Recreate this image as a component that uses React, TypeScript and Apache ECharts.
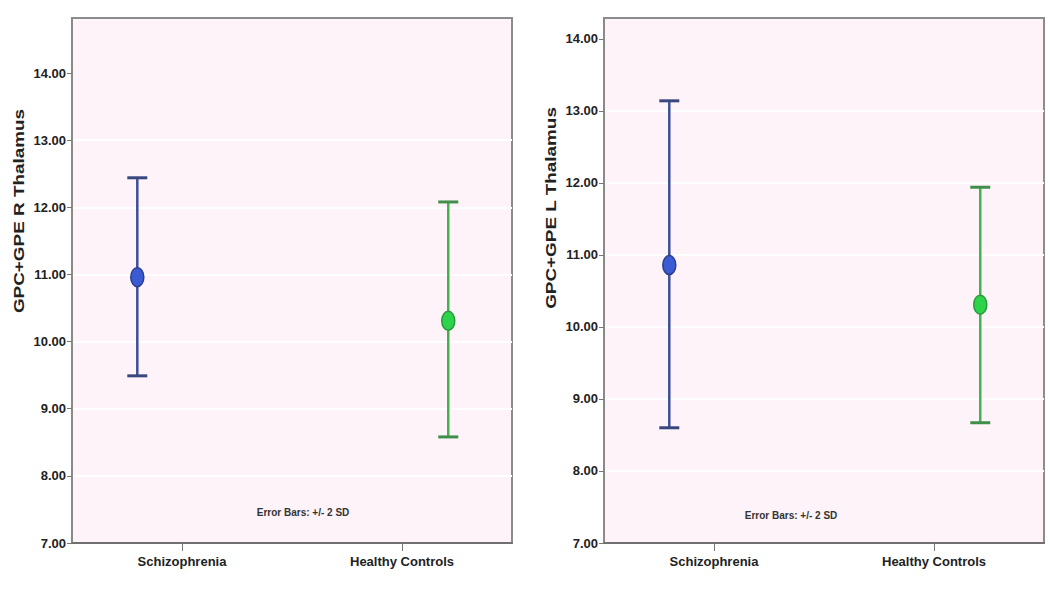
import React, { useEffect, useRef } from "react";
import * as echarts from "echarts";

const categories = ["Schizophrenia", "Healthy Controls"];
const yTicks = [7, 8, 9, 10, 11, 12, 13, 14];

const rightMeans = [10.96, 10.31];
const rightLower = [9.49, 8.58];
const rightUpper = [12.44, 12.08];

const leftMeans = [10.86, 10.31];
const leftLower = [8.6, 8.67];
const leftUpper = [13.14, 11.94];

const lineColors = ["#3c4f98", "#45b24f"];
const capColors = ["#3a467e", "#3f8f4a"];
const dotFill = ["#3a5bd4", "#2ed34c"];
const dotStroke = ["#2c3e8f", "#2a9a3a"];

const FONT = "Liberation Sans, Arial, sans-serif";

function buildData(lower: number[], upper: number[], means: number[]) {
  return categories.map((_, i) => [i, lower[i], upper[i], means[i]]);
}

const renderErrorBar = (params: any, api: any) => {
  const x = api.value(0);
  const lo = api.coord([x, api.value(1)]);
  const hi = api.coord([x, api.value(2)]);
  const m = api.coord([x, api.value(3)]);
  const i = params.dataIndex;
  const half = 10;
  return {
    type: "group",
    children: [
      {
        type: "line",
        shape: { x1: lo[0], y1: lo[1], x2: hi[0], y2: hi[1] },
        style: { stroke: lineColors[i], lineWidth: 2.5 },
      },
      {
        type: "line",
        shape: { x1: lo[0] - half, y1: lo[1], x2: lo[0] + half, y2: lo[1] },
        style: { stroke: capColors[i], lineWidth: 3 },
      },
      {
        type: "line",
        shape: { x1: hi[0] - half, y1: hi[1], x2: hi[0] + half, y2: hi[1] },
        style: { stroke: capColors[i], lineWidth: 3 },
      },
      {
        type: "ellipse",
        shape: { cx: m[0], cy: m[1], rx: 6.5, ry: 9.5 },
        style: { fill: dotFill[i], stroke: dotStroke[i], lineWidth: 1.5 },
      },
    ],
  };
};

function yAxisCfg(gridIndex: number, max: number) {
  return {
    type: "value",
    gridIndex,
    min: 7,
    max,
    interval: 1,
    axisLine: { show: true, onZero: false, lineStyle: { color: "#8a8a8a", width: 2 } },
    axisTick: {
      show: true,
      length: 5,
      customValues: yTicks,
      lineStyle: { color: "#777", width: 1 },
    },
    axisLabel: {
      customValues: yTicks,
      formatter: (v: number) => v.toFixed(2),
      color: "#222",
      fontSize: 13,
      fontWeight: "bold",
      fontFamily: FONT,
      margin: 6,
    },
    splitLine: {
      show: true,
      showMinLine: false,
      showMaxLine: false,
      lineStyle: { color: "#ffffff", width: 2 },
    },
  };
}

function catAxisCfg(gridIndex: number) {
  return {
    type: "category",
    gridIndex,
    data: categories,
    boundaryGap: true,
    axisLine: { show: true, onZero: false, lineStyle: { color: "#707070", width: 2 } },
    axisTick: {
      show: true,
      alignWithLabel: true,
      length: 8,
      lineStyle: { color: "#777", width: 1 },
    },
    axisLabel: {
      color: "#222",
      fontSize: 13,
      fontWeight: "bold",
      fontFamily: FONT,
      margin: 12,
    },
    splitLine: { show: false },
  };
}

function hiddenXCfg(gridIndex: number) {
  return {
    type: "value",
    gridIndex,
    show: false,
    min: -0.21,
    max: 1.205,
    axisLine: { show: false, onZero: false },
    splitLine: { show: false },
  };
}

export default function App() {
  const ref = useRef<HTMLDivElement>(null);

  useEffect(() => {
    if (!ref.current) return;
    const chart = echarts.init(ref.current, null, { renderer: "svg" });
    const gridStyle = {
      show: true,
      borderColor: "#8c8c8c",
      borderWidth: 2,
      backgroundColor: "#fdf3f9",
      containLabel: false,
    };
    const option: any = {
      animation: false,
      backgroundColor: "#ffffff",
      grid: [
        { left: 72, top: 18, width: 440, height: 525, ...gridStyle },
        { left: 604, top: 18, width: 440, height: 525, ...gridStyle },
      ],
      xAxis: [catAxisCfg(0), catAxisCfg(1), hiddenXCfg(0), hiddenXCfg(1)],
      yAxis: [yAxisCfg(0, 14.82), yAxisCfg(1, 14.29)],
      series: [
        {
          type: "custom",
          name: "GPC+GPE R Thalamus",
          xAxisIndex: 2,
          yAxisIndex: 0,
          renderItem: renderErrorBar,
          data: buildData(rightLower, rightUpper, rightMeans),
          z: 5,
        },
        {
          type: "custom",
          name: "GPC+GPE L Thalamus",
          xAxisIndex: 3,
          yAxisIndex: 1,
          renderItem: renderErrorBar,
          data: buildData(leftLower, leftUpper, leftMeans),
          z: 5,
        },
      ],
      graphic: [
        {
          type: "text",
          x: 19,
          y: 211,
          rotation: Math.PI / 2,
          scaleX: 1.35,
          style: {
            text: "GPC+GPE R Thalamus",
            fill: "#222",
            font: "bold 14px " + FONT,
            textAlign: "center",
            textVerticalAlign: "middle",
          },
        },
        {
          type: "text",
          x: 551,
          y: 208,
          rotation: Math.PI / 2,
          scaleX: 1.35,
          style: {
            text: "GPC+GPE L Thalamus",
            fill: "#222",
            font: "bold 14px " + FONT,
            textAlign: "center",
            textVerticalAlign: "middle",
          },
        },
        {
          type: "text",
          x: 303,
          y: 512,
          style: {
            text: "Error Bars: +/- 2 SD",
            fill: "#333",
            font: "bold 10px " + FONT,
            textAlign: "center",
            textVerticalAlign: "middle",
          },
        },
        {
          type: "text",
          x: 791,
          y: 515,
          style: {
            text: "Error Bars: +/- 2 SD",
            fill: "#333",
            font: "bold 10px " + FONT,
            textAlign: "center",
            textVerticalAlign: "middle",
          },
        },
      ],
    };
    chart.setOption(option);
    return () => chart.dispose();
  }, []);

  return (
    <div
      ref={ref}
      style={{ position: "fixed", left: 0, top: 0, width: 1050, height: 603 }}
    />
  );
}
